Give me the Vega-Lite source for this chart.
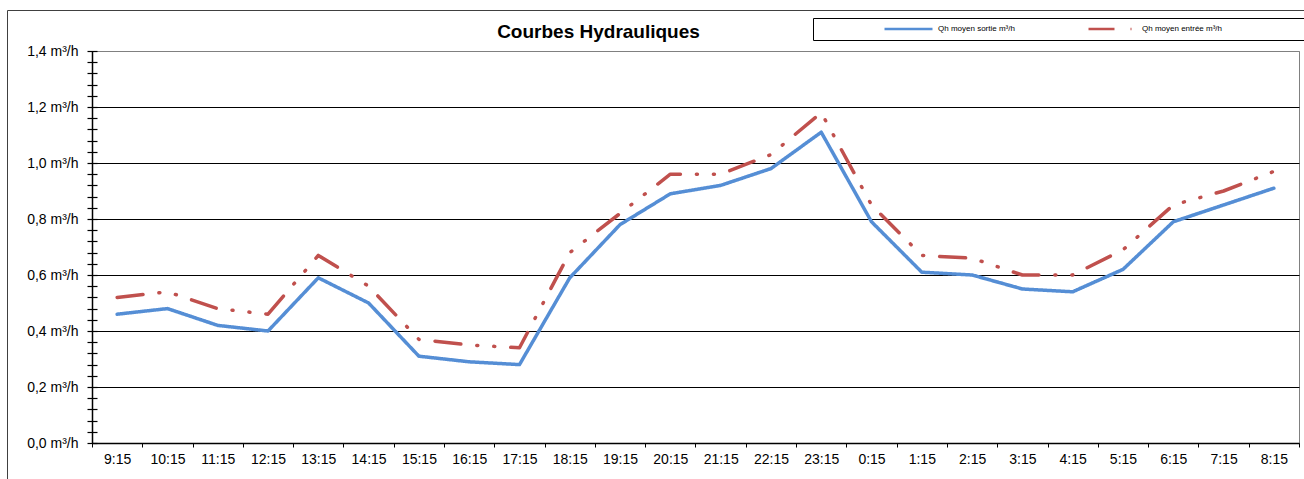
{
  "$schema": "https://vega.github.io/schema/vega-lite/v6.json",
  "width": 1207,
  "height": 392,
  "autosize": {"type": "none"},
  "padding": {"left": 92, "top": 51, "right": 5, "bottom": 36},
  "background": "white",
  "config": {
    "view": {"stroke": "#808080", "strokeWidth": 1},
    "font": "Liberation Sans"
  },
  "title": {
    "text": "Courbes Hydrauliques",
    "font": "Liberation Sans",
    "fontSize": 19,
    "fontWeight": "bold",
    "color": "black",
    "anchor": "middle",
    "frame": "group",
    "dx": -97,
    "offset": -32
  },
  "data": {
    "values": [
      {"t": "9:15", "s": "Qh moyen sortie m³/h", "v": 0.46},
      {"t": "10:15", "s": "Qh moyen sortie m³/h", "v": 0.48},
      {"t": "11:15", "s": "Qh moyen sortie m³/h", "v": 0.42},
      {"t": "12:15", "s": "Qh moyen sortie m³/h", "v": 0.40},
      {"t": "13:15", "s": "Qh moyen sortie m³/h", "v": 0.59},
      {"t": "14:15", "s": "Qh moyen sortie m³/h", "v": 0.50},
      {"t": "15:15", "s": "Qh moyen sortie m³/h", "v": 0.31},
      {"t": "16:15", "s": "Qh moyen sortie m³/h", "v": 0.29},
      {"t": "17:15", "s": "Qh moyen sortie m³/h", "v": 0.28},
      {"t": "18:15", "s": "Qh moyen sortie m³/h", "v": 0.59},
      {"t": "19:15", "s": "Qh moyen sortie m³/h", "v": 0.78},
      {"t": "20:15", "s": "Qh moyen sortie m³/h", "v": 0.89},
      {"t": "21:15", "s": "Qh moyen sortie m³/h", "v": 0.92},
      {"t": "22:15", "s": "Qh moyen sortie m³/h", "v": 0.98},
      {"t": "23:15", "s": "Qh moyen sortie m³/h", "v": 1.11},
      {"t": "0:15", "s": "Qh moyen sortie m³/h", "v": 0.79},
      {"t": "1:15", "s": "Qh moyen sortie m³/h", "v": 0.61},
      {"t": "2:15", "s": "Qh moyen sortie m³/h", "v": 0.60},
      {"t": "3:15", "s": "Qh moyen sortie m³/h", "v": 0.55},
      {"t": "4:15", "s": "Qh moyen sortie m³/h", "v": 0.54},
      {"t": "5:15", "s": "Qh moyen sortie m³/h", "v": 0.62},
      {"t": "6:15", "s": "Qh moyen sortie m³/h", "v": 0.79},
      {"t": "7:15", "s": "Qh moyen sortie m³/h", "v": 0.85},
      {"t": "8:15", "s": "Qh moyen sortie m³/h", "v": 0.91},
      {"t": "9:15", "s": "Qh moyen entrée  m³/h", "v": 0.52},
      {"t": "10:15", "s": "Qh moyen entrée  m³/h", "v": 0.54},
      {"t": "11:15", "s": "Qh moyen entrée  m³/h", "v": 0.48},
      {"t": "12:15", "s": "Qh moyen entrée  m³/h", "v": 0.46},
      {"t": "13:15", "s": "Qh moyen entrée  m³/h", "v": 0.67},
      {"t": "14:15", "s": "Qh moyen entrée  m³/h", "v": 0.56},
      {"t": "15:15", "s": "Qh moyen entrée  m³/h", "v": 0.37},
      {"t": "16:15", "s": "Qh moyen entrée  m³/h", "v": 0.35},
      {"t": "17:15", "s": "Qh moyen entrée  m³/h", "v": 0.34},
      {"t": "18:15", "s": "Qh moyen entrée  m³/h", "v": 0.68},
      {"t": "19:15", "s": "Qh moyen entrée  m³/h", "v": 0.82},
      {"t": "20:15", "s": "Qh moyen entrée  m³/h", "v": 0.96},
      {"t": "21:15", "s": "Qh moyen entrée  m³/h", "v": 0.96},
      {"t": "22:15", "s": "Qh moyen entrée  m³/h", "v": 1.03},
      {"t": "23:15", "s": "Qh moyen entrée  m³/h", "v": 1.18},
      {"t": "0:15", "s": "Qh moyen entrée  m³/h", "v": 0.85},
      {"t": "1:15", "s": "Qh moyen entrée  m³/h", "v": 0.67},
      {"t": "2:15", "s": "Qh moyen entrée  m³/h", "v": 0.66},
      {"t": "3:15", "s": "Qh moyen entrée  m³/h", "v": 0.60},
      {"t": "4:15", "s": "Qh moyen entrée  m³/h", "v": 0.60},
      {"t": "5:15", "s": "Qh moyen entrée  m³/h", "v": 0.69},
      {"t": "6:15", "s": "Qh moyen entrée  m³/h", "v": 0.85},
      {"t": "7:15", "s": "Qh moyen entrée  m³/h", "v": 0.90},
      {"t": "8:15", "s": "Qh moyen entrée  m³/h", "v": 0.97}
    ]
  },
  "resolve": {"axis": {"y": "independent"}},
  "layer": [
    {
      "mark": {"type": "line", "strokeWidth": 3.5, "strokeCap": "round", "strokeJoin": "round"},
      "encoding": {
        "x": {
          "field": "t",
          "type": "nominal",
          "sort": ["9:15","10:15","11:15","12:15","13:15","14:15","15:15","16:15","17:15","18:15","19:15","20:15","21:15","22:15","23:15","0:15","1:15","2:15","3:15","4:15","5:15","6:15","7:15","8:15"],
          "scale": {"type": "band", "paddingInner": 0, "paddingOuter": 0},
          "axis": {
            "title": null,
            "labelAngle": 0,
            "labelFontSize": 14,
            "labelColor": "black",
            "labelFont": "Liberation Sans",
            "labelPadding": 5,
            "tickBand": "extent",
            "tickSize": 4,
            "tickColor": "black",
            "domainColor": "black",
            "domainWidth": 1.5,
            "grid": false
          }
        },
        "y": {
          "field": "v",
          "type": "quantitative",
          "scale": {"domain": [0, 1.4], "nice": false, "zero": true},
          "axis": {
            "title": null,
            "values": [0, 0.2, 0.4, 0.6, 0.8, 1.0, 1.2, 1.4],
            "labelExpr": "replace(format(datum.value, '.1f'), '.', ',') + ' m³/h'",
            "labelFontSize": 14,
            "labelColor": "black",
            "labelFont": "Liberation Sans",
            "labelPadding": 14,
            "ticks": false,
            "domainColor": "black",
            "domainWidth": 1.5,
            "grid": true,
            "gridColor": {"condition": {"test": "datum.value >= 1.39", "value": "#808080"}, "value": "black"},
            "gridWidth": 1,
            "gridOpacity": 1
          }
        },
        "color": {
          "field": "s",
          "type": "nominal",
          "scale": {"domain": ["Qh moyen sortie m³/h", "Qh moyen entrée  m³/h"], "range": ["#558ED5", "#C0504D"]},
          "legend": {
            "orient": "none",
            "legendX": 721,
            "legendY": -33,
            "direction": "horizontal",
            "title": " ",
            "titleOrient": "left",
            "titleFontSize": 8,
            "titlePadding": 64,
            "strokeColor": "black",
            "fillColor": "white",
            "padding": 6,
            "clipHeight": 10,
            "symbolType": "stroke",
            "symbolSize": 2304,
            "symbolStrokeWidth": 2.5,
            "labelFontSize": 8,
            "labelFont": "Liberation Sans",
            "labelColor": "black",
            "labelOffset": 4,
            "columnPadding": 72,
            "labelLimit": 1000,
            "labelExpr": "indexof(datum.label, 'entr') >= 0 ? datum.label + '\u00a0\u00a0\u00a0\u00a0\u00a0\u00a0\u00a0\u00a0\u00a0\u00a0\u00a0\u00a0\u00a0\u00a0\u00a0\u00a0\u00a0\u00a0\u00a0\u00a0\u00a0\u00a0\u00a0\u00a0\u00a0\u00a0\u00a0\u00a0\u00a0\u00a0\u00a0\u00a0\u00a0\u00a0\u200b' : datum.label",
            "encode": {
              "symbols": {
                "update": {
                  "strokeDash": {"signal": "indexof(datum.label, 'entr') >= 0 ? [12, 6, 0.5, 6, 0.5, 6] : [1, 0]"}
                }
              }
            }
          }
        },
        "strokeDash": {
          "field": "s",
          "type": "nominal",
          "scale": {"domain": ["Qh moyen sortie m³/h", "Qh moyen entrée  m³/h"], "range": [[1, 0], [26, 16, 1, 16, 1, 16]]}
        }
      }
    },
    {
      "mark": {"type": "line", "opacity": 0},
      "encoding": {
        "x": {
          "field": "t",
          "type": "nominal",
          "sort": ["9:15","10:15","11:15","12:15","13:15","14:15","15:15","16:15","17:15","18:15","19:15","20:15","21:15","22:15","23:15","0:15","1:15","2:15","3:15","4:15","5:15","6:15","7:15","8:15"]
        },
        "y": {
          "field": "v",
          "type": "quantitative",
          "axis": {
            "orient": "left",
            "title": null,
            "values": [0, 0.04, 0.08, 0.12, 0.16, 0.2, 0.24, 0.28, 0.32, 0.36, 0.4, 0.44, 0.48, 0.52, 0.56, 0.6, 0.64, 0.68, 0.72, 0.76, 0.8, 0.84, 0.88, 0.92, 0.96, 1.0, 1.04, 1.08, 1.12, 1.16, 1.2, 1.24, 1.28, 1.32, 1.36, 1.4],
            "labels": false,
            "domain": false,
            "grid": false,
            "offset": -5,
            "tickSize": 10,
            "tickColor": "black",
            "tickWidth": 1.2
          }
        },
        "opacity": {
          "field": "s",
          "type": "nominal",
          "scale": {"range": [0, 0]},
          "legend": {
            "orient": "none",
            "legendX": -85,
            "legendY": -41,
            "title": null,
            "values": ["Qh moyen sortie m³/h"],
            "padding": 660,
            "strokeColor": "#404040",
            "fillColor": null,
            "symbolOpacity": 0,
            "labelOpacity": 0,
            "labelFontSize": 1,
            "labelLimit": 1,
            "labelExpr": "'\u200b'"
          }
        },
        "detail": {"field": "s"}
      }
    }
  ]
}
